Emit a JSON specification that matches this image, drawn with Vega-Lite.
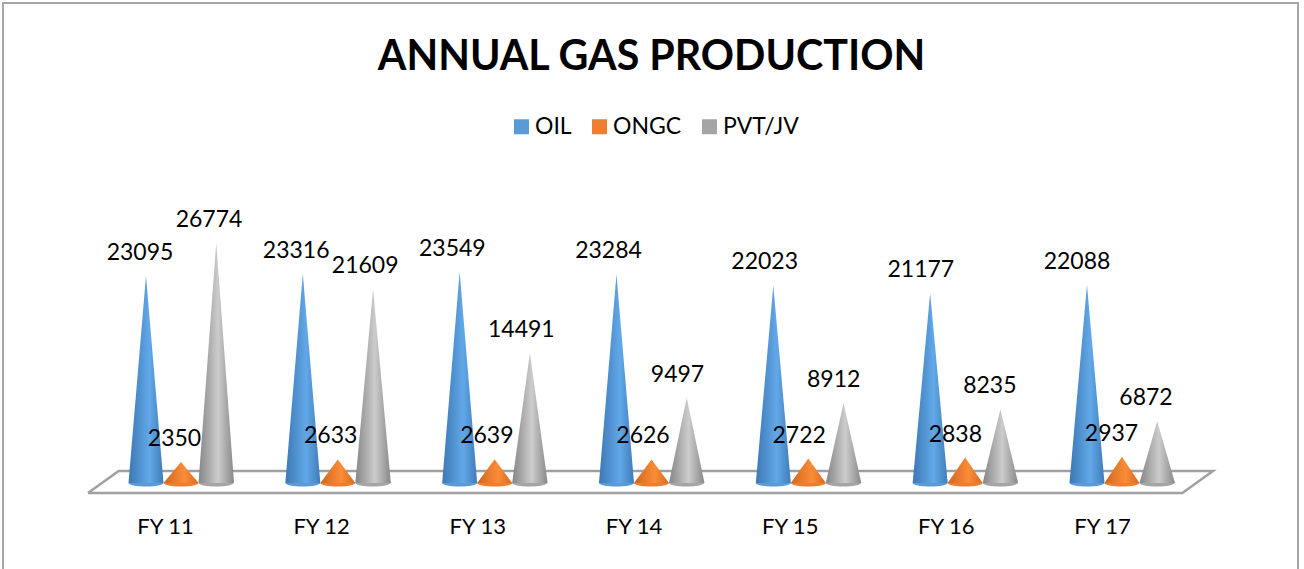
{
"$schema":"https://vega.github.io/schema/vega-lite/v6.json",
"width":1295,"height":570,
"autosize":{"type":"none"},
"padding":{"left":3,"top":3,"right":6,"bottom":-4},
"background":"white",
"view":{"stroke":"#a6a6a6","strokeWidth":2,"fill":"white"},
"title":{"text":"ANNUAL GAS PRODUCTION","font":"Lato","fontWeight":"bold","fontSize":41.2,"color":"#000000","anchor":"middle","frame":"group","baseline":"alphabetic","offset":-67,"dx":1,"dy":41},
"config":{"axis":{"labelFont":"Lato"},"legend":{"labelFont":"Lato"},"text":{"font":"Lato"}},
"datasets":{"rows":[
{"year":"FY 11","series":"OIL","value":23095,"start":0,"end":0},
{"year":"FY 12","series":"OIL","value":23316,"start":0,"end":0},
{"year":"FY 13","series":"OIL","value":23549,"start":0,"end":0},
{"year":"FY 14","series":"OIL","value":23284,"start":0,"end":0},
{"year":"FY 15","series":"OIL","value":22023,"start":0,"end":0},
{"year":"FY 16","series":"OIL","value":21177,"start":0,"end":0},
{"year":"FY 17","series":"OIL","value":22088,"start":0,"end":0},
{"year":"FY 11","series":"ONGC","value":2350,"start":0,"end":0},
{"year":"FY 12","series":"ONGC","value":2633,"start":0,"end":0},
{"year":"FY 13","series":"ONGC","value":2639,"start":0,"end":0},
{"year":"FY 14","series":"ONGC","value":2626,"start":0,"end":0},
{"year":"FY 15","series":"ONGC","value":2722,"start":0,"end":0},
{"year":"FY 16","series":"ONGC","value":2838,"start":0,"end":0},
{"year":"FY 17","series":"ONGC","value":2937,"start":0,"end":0},
{"year":"FY 11","series":"PVT/JV","value":26774,"start":0,"end":0},
{"year":"FY 12","series":"PVT/JV","value":21609,"start":0,"end":0},
{"year":"FY 13","series":"PVT/JV","value":14491,"start":0,"end":0},
{"year":"FY 14","series":"PVT/JV","value":9497,"start":0,"end":0},
{"year":"FY 15","series":"PVT/JV","value":8912,"start":0,"end":0},
{"year":"FY 16","series":"PVT/JV","value":8235,"start":0,"end":0},
{"year":"FY 17","series":"PVT/JV","value":6872,"start":0,"end":0}
],
"floor":[
{"year":"FY 11","corner":"frontLeft","n":1,"level":-1115},
{"year":"FY 17","corner":"frontRight","n":2,"level":-1115},
{"year":"FY 17","corner":"backRight","n":3,"level":1338},
{"year":"FY 11","corner":"backLeft","n":4,"level":1338},
{"year":"FY 11","corner":"frontLeft","n":5,"level":-1115}
]},
"resolve":{"scale":{"xOffset":"independent","x":"independent"}},
"encoding":{
"x":{"field":"year","type":"nominal","scale":{"type":"band","domain":["FY 11","FY 12","FY 13","FY 14","FY 15","FY 16","FY 17"],"range":[100,1197.8],"paddingInner":0,"paddingOuter":0},"axis":null}
},
"layer":[
{"data":{"name":"floor"},"mark":{"type":"line","stroke":"#a0a0a0","strokeWidth":2.5},
"encoding":{
"xOffset":{"field":"corner","type":"nominal","scale":{"type":"point","padding":0,"domain":["frontLeft","backLeft","a","b","c","frontRight","backRight"],"range":[-15,169]}},
"y":{"field":"level","type":"quantitative","scale":{"domain":[0,30000],"range":[480,210.9]},"axis":null},
"order":{"field":"n","type":"quantitative"}
}},
{"data":{"name":"rows"},"mark":{"type":"point","filled":true,"opacity":1,"shape":"M-1,0A1,0.2 0 0 0 1,0Z","size":1225},
"encoding":{
"xOffset":{"field":"series","type":"nominal","scale":{"type":"point","padding":0,"domain":["OIL","ONGC","PVT/JV"],"range":[43,113]}},
"y":{"datum":0,"type":"quantitative","scale":{"domain":[0,30000],"range":[480,210.9]},"axis":null},
"color":{"field":"series","type":"nominal","scale":{"domain":["OIL","ONGC","PVT/JV"],"range":["#5b9bd5","#ed7d31","#a5a5a5"]},
"legend":{"title":null,"orient":"none","legendX":507,"legendY":112,"direction":"horizontal","columns":3,"symbolType":"square","symbolSize":225,"symbolOpacity":1,"symbolStrokeWidth":0,"labelFontSize":23,"labelColor":"#000000","labelOffset":2,"columnPadding":16,"labelFont":"Lato"}}
}},
{"data":{"name":"rows"},"transform":[{"filter":"datum.series==='OIL'"},{"fold":["start","value","end"],"as":["part","level"]}],
"mark":{"type":"area","line":false,"color":{"gradient":"linear","x1":0,"x2":1,"y1":0,"y2":0,"stops":[{"offset":0,"color":"#3c78b4"},{"offset":0.6,"color":"#62a8e8"},{"offset":1,"color":"#3f7cb8"}]}},
"encoding":{
"xOffset":{"field":"part","type":"nominal","scale":{"type":"point","padding":0,"domain":["start","value","end"],"range":[25.5,60.5]}},
"y":{"field":"level","type":"quantitative","stack":null,"scale":{"domain":[0,30000],"range":[480,210.9]},"axis":null},
"detail":{"field":"year"}
}},
{"data":{"name":"rows"},"transform":[{"filter":"datum.series==='ONGC'"},{"fold":["start","value","end"],"as":["part","level"]}],
"mark":{"type":"area","line":false,"color":{"gradient":"linear","x1":0,"x2":1,"y1":0,"y2":0,"stops":[{"offset":0,"color":"#d0661e"},{"offset":0.6,"color":"#fb8c38"},{"offset":1,"color":"#d46a22"}]}},
"encoding":{
"xOffset":{"field":"part","type":"nominal","scale":{"type":"point","padding":0,"domain":["start","value","end"],"range":[60.5,95.5]}},
"y":{"field":"level","type":"quantitative","stack":null,"scale":{"domain":[0,30000],"range":[480,210.9]},"axis":null},
"detail":{"field":"year"}
}},
{"data":{"name":"rows"},"transform":[{"filter":"datum.series==='PVT/JV'"},{"fold":["start","value","end"],"as":["part","level"]}],
"mark":{"type":"area","line":false,"color":{"gradient":"linear","x1":0,"x2":1,"y1":0,"y2":0,"stops":[{"offset":0,"color":"#858585"},{"offset":0.55,"color":"#cccccc"},{"offset":1,"color":"#888888"}]}},
"encoding":{
"xOffset":{"field":"part","type":"nominal","scale":{"type":"point","padding":0,"domain":["start","value","end"],"range":[95.5,131]}},
"y":{"field":"level","type":"quantitative","stack":null,"scale":{"domain":[0,30000],"range":[480,210.9]},"axis":null},
"detail":{"field":"year"}
}},
{"data":{"name":"rows"},"mark":{"type":"text","fontSize":23,"font":"Lato","color":"#000000","baseline":"middle","dy":-23},
"encoding":{
"x":{"field":"year","type":"nominal","scale":{"type":"band","domain":["FY 11","FY 12","FY 13","FY 14","FY 15","FY 16","FY 17"],"range":[100,1193.2],"paddingInner":0,"paddingOuter":0},"axis":null},
"xOffset":{"field":"series","type":"nominal","scale":{"type":"point","padding":0,"domain":["OIL","ONGC","PVT/JV"],"range":[37,106]}},
"y":{"field":"value","type":"quantitative","scale":{"domain":[0,30000],"range":[480,210.9]},"axis":null},
"text":{"field":"value","type":"quantitative","format":"d"}
}},
{"data":{"name":"rows"},"transform":[{"filter":"datum.series==='OIL'"}],"mark":{"type":"text","fontSize":22,"font":"Lato","color":"#000000","baseline":"middle"},
"encoding":{
"x":{"field":"year","type":"nominal","scale":{"type":"band","domain":["FY 11","FY 12","FY 13","FY 14","FY 15","FY 16","FY 17"],"range":[100,1193.2],"paddingInner":0,"paddingOuter":0},"axis":null,"bandPosition":0.4},
"y":{"datum":-4960,"type":"quantitative","scale":{"domain":[0,30000],"range":[480,210.9]},"axis":null},
"text":{"field":"year","type":"nominal"}
}}
]
}
